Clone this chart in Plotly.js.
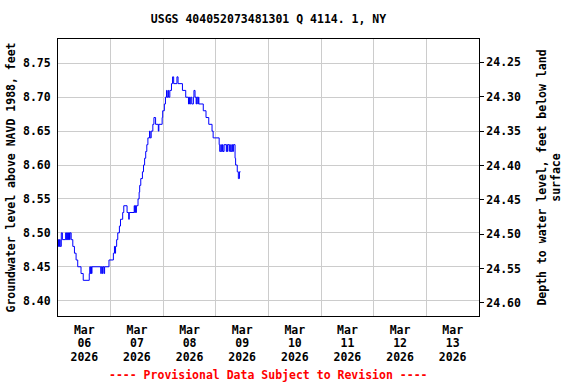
<!DOCTYPE html>
<html>
<head>
<meta charset="utf-8">
<script src="https://cdn.plot.ly/plotly-3.0.1.min.js"></script>
<style>html,body{margin:0;padding:0;background:#fff;}#chart{width:576px;height:384px;}</style>
</head>
<body>
<div id="chart"></div>
<script>
const times = [
  '2026-03-06 00:00','2026-03-06 00:15','2026-03-06 00:30','2026-03-06 00:45','2026-03-06 01:00',
  '2026-03-06 01:30','2026-03-06 02:00','2026-03-06 03:30','2026-03-06 03:45','2026-03-06 04:00',
  '2026-03-06 04:15','2026-03-06 04:30','2026-03-06 04:45','2026-03-06 05:00','2026-03-06 05:15',
  '2026-03-06 05:30','2026-03-06 06:00','2026-03-06 06:45','2026-03-06 07:30','2026-03-06 08:15',
  '2026-03-06 09:00','2026-03-06 10:30','2026-03-06 11:30','2026-03-06 14:15','2026-03-06 14:30',
  '2026-03-06 14:45','2026-03-06 15:00','2026-03-06 15:15','2026-03-06 15:30','2026-03-06 19:30',
  '2026-03-06 19:45','2026-03-06 20:15','2026-03-06 20:30','2026-03-06 21:00','2026-03-06 21:15',
  '2026-03-06 23:15',
  '2026-03-07 01:15','2026-03-07 01:45','2026-03-07 02:00','2026-03-07 02:15','2026-03-07 02:45',
  '2026-03-07 03:15','2026-03-07 04:00','2026-03-07 04:30','2026-03-07 05:30','2026-03-07 06:00',
  '2026-03-07 07:30','2026-03-07 08:15','2026-03-07 08:30','2026-03-07 10:45','2026-03-07 11:00',
  '2026-03-07 11:15','2026-03-07 11:30','2026-03-07 11:45','2026-03-07 12:30','2026-03-07 13:00',
  '2026-03-07 13:15','2026-03-07 13:45','2026-03-07 14:30','2026-03-07 15:00','2026-03-07 15:30',
  '2026-03-07 16:00','2026-03-07 16:30','2026-03-07 17:00','2026-03-07 17:45','2026-03-07 18:00',
  '2026-03-07 18:30','2026-03-07 19:15','2026-03-07 19:45','2026-03-07 20:30','2026-03-07 21:45',
  '2026-03-07 22:00','2026-03-07 23:30','2026-03-07 23:45',
  '2026-03-08 00:30','2026-03-08 01:00','2026-03-08 01:30','2026-03-08 01:45','2026-03-08 02:15',
  '2026-03-08 02:30','2026-03-08 03:00','2026-03-08 03:45','2026-03-08 04:15','2026-03-08 04:45',
  '2026-03-08 06:15','2026-03-08 06:45','2026-03-08 08:45','2026-03-08 10:15','2026-03-08 11:30',
  '2026-03-08 11:45','2026-03-08 12:00','2026-03-08 12:30','2026-03-08 13:00','2026-03-08 13:45',
  '2026-03-08 14:00','2026-03-08 14:30','2026-03-08 15:00','2026-03-08 15:15','2026-03-08 15:45',
  '2026-03-08 16:00','2026-03-08 16:15','2026-03-08 18:15','2026-03-08 19:30','2026-03-08 20:45',
  '2026-03-08 22:15','2026-03-08 22:45',
  '2026-03-09 01:30','2026-03-09 01:45','2026-03-09 02:15','2026-03-09 02:30','2026-03-09 03:00',
  '2026-03-09 03:15','2026-03-09 03:45','2026-03-09 04:45','2026-03-09 05:00','2026-03-09 05:15',
  '2026-03-09 05:30','2026-03-09 06:15','2026-03-09 06:45','2026-03-09 07:00','2026-03-09 07:30',
  '2026-03-09 07:45','2026-03-09 08:00','2026-03-09 08:45','2026-03-09 09:00','2026-03-09 09:45',
  '2026-03-09 10:15','2026-03-09 10:45','2026-03-09 11:15'
];
// Groundwater level above NAVD 1988, feet
const levels = [
  8.48,8.49,8.48,8.49,8.48,
  8.50,8.49,8.50,8.49,8.50,
  8.49,8.50,8.49,8.50,8.49,
  8.50,8.49,8.48,8.47,8.46,
  8.45,8.44,8.43,8.44,8.45,
  8.44,8.45,8.44,8.45,8.44,
  8.45,8.44,8.45,8.44,8.45,
  8.46,
  8.47,8.48,8.47,8.48,8.49,
  8.50,8.51,8.52,8.53,8.54,
  8.53,8.52,8.53,8.54,8.53,
  8.54,8.53,8.54,8.55,8.56,
  8.57,8.58,8.59,8.60,8.61,
  8.62,8.63,8.64,8.65,8.64,
  8.65,8.66,8.67,8.66,8.65,
  8.66,8.67,8.68,
  8.69,8.70,8.71,8.70,8.71,
  8.70,8.71,8.72,8.73,8.72,
  8.73,8.72,8.71,8.70,8.69,
  8.70,8.69,8.70,8.69,8.70,
  8.71,8.70,8.69,8.70,8.69,
  8.70,8.69,8.68,8.67,8.66,
  8.65,8.64,
  8.63,8.62,8.63,8.62,8.63,
  8.62,8.63,8.62,8.63,8.62,
  8.63,8.62,8.63,8.62,8.63,
  8.62,8.63,8.61,8.60,8.59,
  8.58,8.59,8.59
];

const xRange = ['2026-03-06 00:00', '2026-03-14 00:00'];
const leftRange = [8.3774, 8.7858];
const rightRange = [24.619, 24.216];
const titleText = 'USGS 404052073481301 Q 4114. 1, NY';
const leftTitle = 'Groundwater level above NAVD 1988, feet';
const rightTitle = 'Depth to water level, feet below land<br>surface';
const footer = '---- Provisional Data Subject to Revision ----';
// tick label rows under each day: month, day, year
const labelFormats = ['%b', '%d', '%Y'];

const F = 'DejaVu Sans Mono, monospace';
const fnt = {family: F, size: 11.5, color: '#000', weight: 'bold'};

const traces = [
  {x: times, y: levels, type: 'scatter', mode: 'lines',
   line: {color: '#0000ff', width: 1, shape: 'hv'}, hoverinfo: 'skip', showlegend: false},
  {x: [], y: [], type: 'scatter', mode: 'lines', yaxis: 'y2', hoverinfo: 'skip', showlegend: false},
  {x: [], y: [], type: 'scatter', mode: 'lines', xaxis: 'x2', hoverinfo: 'skip', showlegend: false},
  {x: [], y: [], type: 'scatter', mode: 'lines', xaxis: 'x3', hoverinfo: 'skip', showlegend: false}
];

function labelAxis(fmt, standoff, extra) {
  return Object.assign({
    type: 'date', range: xRange,
    tickmode: 'linear', tick0: '2026-03-06 12:00', dtick: 86400000,
    tickformat: fmt, tickfont: fnt, ticks: '', ticklabelstandoff: standoff,
    showgrid: false, showline: false, zeroline: false
  }, extra || {});
}

const layout = {
  width: 576, height: 384,
  margin: {l: 58, r: 97, t: 39, b: 68, pad: 0},
  paper_bgcolor: '#fff', plot_bgcolor: '#fff',
  font: fnt,
  showlegend: false,
  title: {text: titleText, font: fnt, x: 0.5, xref: 'paper', y: 1 - 19/384, yref: 'container', yanchor: 'middle'},
  xaxis: labelAxis(labelFormats[0], 3, {
    minor: {tick0: '2026-03-06 00:00', dtick: 86400000, showgrid: true, gridcolor: '#cccccc', gridwidth: 1, ticks: ''},
    showline: true, linecolor: '#000', linewidth: 1, mirror: true
  }),
  xaxis2: labelAxis(labelFormats[1], 18, {overlaying: 'x', side: 'bottom', anchor: 'y'}),
  xaxis3: labelAxis(labelFormats[2], 32, {overlaying: 'x', side: 'bottom', anchor: 'y'}),
  yaxis: {
    range: leftRange, tickmode: 'linear', tick0: 8.40, dtick: 0.05, tickformat: '.2f',
    tickfont: fnt, showgrid: true, gridcolor: '#cccccc', gridwidth: 1,
    ticks: 'outside', ticklen: 4, tickcolor: 'rgba(0,0,0,0)',
    showline: true, linecolor: '#000', linewidth: 1, mirror: true, zeroline: false,
    title: {text: leftTitle, font: fnt, standoff: 4}
  },
  yaxis2: {
    overlaying: 'y', side: 'right', anchor: 'x',
    range: rightRange, tickmode: 'linear', tick0: 24.25, dtick: 0.05, tickformat: '.2f',
    tickfont: fnt, showgrid: false, ticks: 'outside', ticklen: 4, tickcolor: '#000',
    showline: true, linecolor: '#000', linewidth: 1, zeroline: false,
    title: {text: rightTitle, font: fnt, standoff: 17}
  },
  annotations: [
    {text: footer, xref: 'paper', yref: 'paper', x: 0.5, y: -(375 - 316) / 277,
     xanchor: 'center', yanchor: 'middle', showarrow: false,
     font: {family: F, size: 11.5, color: '#ff0000', weight: 'bold'}}
  ]
};

Plotly.newPlot('chart', traces, layout, {displayModeBar: false, staticPlot: true});
</script>
</body>
</html>
